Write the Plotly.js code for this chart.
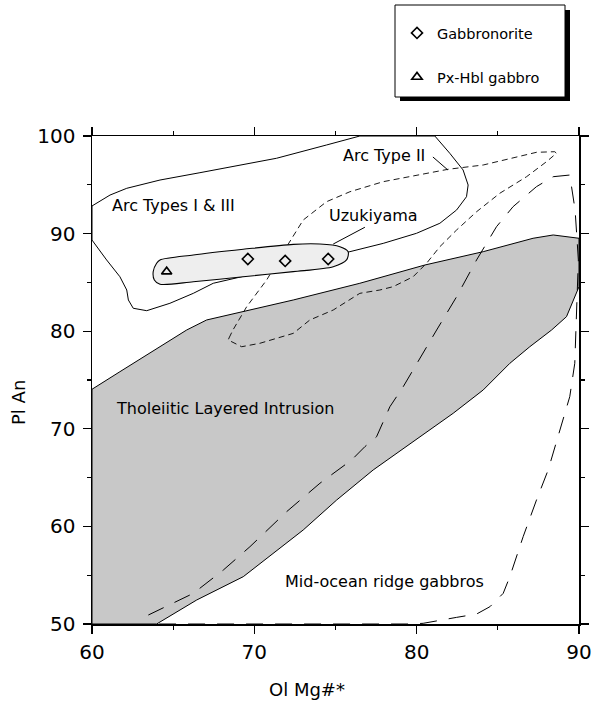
<!DOCTYPE html>
<html>
<head>
<meta charset="utf-8">
<script src="https://cdn.plot.ly/plotly-3.0.1.min.js"></script>
<style>
  html, body { margin: 0; padding: 0; background: #ffffff; }
  #chart { width: 597px; height: 701px; }
</style>
</head>
<body>
<div id="chart"></div>
<script>
// ---- Data ----
// Tholeiitic Layered Intrusion field (grey)
const tholX = [60, 60, 61.72, 63.88, 65.83, 67.06, 69.73, 72.40, 76.50, 80.50, 84.10, 87.17, 88.41, 90, 90, 89.23, 88.31, 86.97, 85.74, 84.10, 82.25, 80.20, 77.32, 75.07, 73.01, 69.32, 66.45, 63.98, 60];
const tholY = [50, 74.05, 75.85, 78.07, 80.12, 81.15, 82.17, 83.20, 84.91, 86.78, 88.15, 89.52, 89.86, 89.52, 84.56, 81.49, 80.12, 78.41, 76.71, 73.98, 71.59, 69.19, 65.78, 62.70, 59.63, 54.85, 52.46, 50, 50];

// Arc Types I & III field (solid outline)
const arc13X = [60, 61.11, 62.14, 64.19, 66.65, 69.30, 71.37, 74.45, 76.5, 81.12, 82.04, 82.86, 83.17, 83.07, 82.46, 81.43, 79.99, 77.94, 75.89, 67.47, 66.24, 64.80, 63.37, 62.54, 62.24, 62.14, 61.72, 60.90, 60.08, 60, 60];
const arc13Y = [92.83, 93.95, 94.64, 95.49, 96.24, 97.03, 97.72, 99.08, 100, 100, 98.23, 96.52, 94.98, 93.78, 92.42, 91.06, 90.03, 89.0, 88.15, 84.91, 83.88, 82.86, 82.10, 82.35, 83.20, 84.22, 85.58, 87.30, 89.17, 89.34, 92.83];

// Arc Type II field (short dashes)
const arc2X = [68.44, 68.68, 69.53, 70.76, 71.99, 73.01, 74.45, 75.89, 77.94, 79.99, 81.94, 84.10, 86.15, 87.38, 88.51, 88.61, 88.0, 86.77, 85.12, 83.69, 82.46, 81.43, 80.61, 79.78, 78.55, 77.73, 76.50, 74.86, 73.42, 72.40, 70.34, 69.22, 68.39, 68.44];
const arc2Y = [79.30, 80.12, 82.51, 85.25, 88.66, 91.39, 93.27, 94.29, 95.32, 96.0, 96.59, 97.03, 97.82, 98.33, 98.39, 98.23, 97.37, 95.83, 94.13, 92.24, 90.37, 88.66, 86.96, 85.58, 84.56, 84.22, 83.88, 82.17, 81.15, 79.78, 78.76, 78.41, 79.10, 79.30];

// Mid-ocean ridge gabbros field (long dashes)
const morbX = [63.47, 66.24, 68.09, 69.73, 71.99, 74.04, 75.99, 76.81, 77.53, 78.35, 79.17, 80.71, 81.23, 82.46, 83.69, 84.92, 85.94, 87.38, 88.41, 89.43, 89.55, 89.76, 89.96, 89.84, 89.74, 89.43, 88.71, 88.10, 87.38, 86.56, 85.74, 85.33, 84.51, 83.69, 82.46, 80.40, 79.58, 64.0];
const morbY = [50.92, 53.14, 55.53, 57.92, 61.51, 64.42, 66.80, 68.17, 69.19, 72.26, 74.31, 78.76, 80.12, 83.53, 87.30, 90.71, 92.76, 94.81, 95.83, 96.0, 94.81, 92.42, 87.30, 80.12, 76.71, 73.29, 69.19, 65.78, 62.70, 58.95, 54.85, 53.14, 51.77, 51.02, 50.68, 50.07, 50, 50];

// Uzukiyama field (light grey capsule)
const uzuX = [64.19, 66.24, 69.32, 72.40, 74.04, 75.27, 75.78, 75.68, 74.86, 72.40, 69.32, 66.24, 64.19, 63.84, 63.77, 63.98, 64.19];
const uzuY = [87.30, 87.81, 88.39, 88.90, 88.93, 88.66, 88.15, 87.30, 86.61, 86.10, 85.58, 85.07, 84.81, 85.25, 86.10, 86.96, 87.30];

// Samples
const gabbronoriteX = [69.6, 71.9, 74.55];
const gabbronoriteY = [87.4, 87.2, 87.4];
const pxHblX = [64.6];
const pxHblY = [86.1];

// Leader lines of labels
const uzuLeaderX = [76.81, 74.86];
const uzuLeaderY = [90.65, 88.93];
const arc2LeaderX = [81.0, 81.92];
const arc2LeaderY = [97.85, 96.52];

// Axes ticks
const xTickVals = [60, 70, 80, 90];
const yTickVals = [50, 60, 70, 80, 90, 100];

// Field labels
const fieldLabels = ["Arc Types I & III", "Arc Type II", "Uzukiyama", "Tholeiitic Layered Intrusion", "Mid-ocean ridge gabbros"];
const fieldLabelX = [64.99, 78.01, 77.32, 68.19, 78.04];
const fieldLabelY = [92.83, 98.05, 91.83, 72.03, 54.33];

// ---- Plot ----
const FONT = "DejaVu Sans, Verdana, sans-serif";
const W = 597, H = 701;
const M = {l: 92, r: 18, t: 136, b: 77};
const pw = W - M.l - M.r, ph = H - M.t - M.b;
const px2x = p => (p - M.l) / pw;
const py2y = p => (H - M.b - p) / ph;

const traces = [
  {x: tholX, y: tholY, type: 'scatter', mode: 'lines', fill: 'toself', fillcolor: '#c8c8c8',
   line: {color: '#000', width: 1}, showlegend: false, hoverinfo: 'skip'},
  {x: arc13X, y: arc13Y, type: 'scatter', mode: 'lines',
   line: {color: '#000', width: 1}, showlegend: false, hoverinfo: 'skip'},
  {x: arc2X, y: arc2Y, type: 'scatter', mode: 'lines',
   line: {color: '#000', width: 0.9, dash: '6px,4px'}, showlegend: false, hoverinfo: 'skip'},
  {x: morbX, y: morbY, type: 'scatter', mode: 'lines',
   line: {color: '#000', width: 1, dash: '17px,12px'}, showlegend: false, hoverinfo: 'skip'},
  {x: uzuX, y: uzuY, type: 'scatter', mode: 'lines', fill: 'toself', fillcolor: '#eeeeee',
   line: {color: '#000', width: 1.1, shape: 'spline', smoothing: 0.8}, showlegend: false, hoverinfo: 'skip'},
  {x: uzuLeaderX, y: uzuLeaderY, type: 'scatter', mode: 'lines',
   line: {color: '#000', width: 1}, showlegend: false, hoverinfo: 'skip'},
  {x: arc2LeaderX, y: arc2LeaderY, type: 'scatter', mode: 'lines',
   line: {color: '#000', width: 1}, showlegend: false, hoverinfo: 'skip'},
  {x: gabbronoriteX, y: gabbronoriteY, type: 'scatter', mode: 'markers', name: 'Gabbronorite',
   marker: {symbol: 'diamond-open', size: 8.5, color: '#000', line: {color: '#000', width: 1.6}},
   legend: 'legend'},
  {x: pxHblX, y: pxHblY, type: 'scatter', mode: 'markers', name: 'Px-Hbl gabbro',
   marker: {symbol: 'triangle-up-open', size: 9, color: '#000', line: {color: '#000', width: 1.6}},
   legend: 'legend2'}
];

const annotations = fieldLabels.map((t, i) => ({
  text: t, x: fieldLabelX[i], y: fieldLabelY[i], xref: 'x', yref: 'y',
  showarrow: false, font: {family: FONT, size: 16, color: '#000'},
  xanchor: 'center', yanchor: 'middle'
}));
annotations.push({
  text: 'Ol Mg#*', xref: 'paper', yref: 'paper', x: px2x(307), y: py2y(689),
  showarrow: false, xanchor: 'center', yanchor: 'middle',
  font: {family: FONT, size: 18, color: '#000'}
});
annotations.push({
  text: 'Pl An', xref: 'paper', yref: 'paper', x: px2x(18), y: py2y(403),
  showarrow: false, xanchor: 'center', yanchor: 'middle', textangle: -90,
  font: {family: FONT, size: 18, color: '#000'}
});

const axisCommon = {
  showgrid: false, zeroline: false, showline: true, linecolor: '#000', linewidth: 1.5,
  mirror: 'allticks', ticks: 'outside', ticklen: 8, tickwidth: 1.2, tickcolor: '#000',
  tickfont: {family: FONT, size: 20, color: '#000'},
  minor: {dtick: 5, ticks: 'outside', ticklen: 4, tickwidth: 1.2, tickcolor: '#000', showgrid: false}
};

const layout = {
  width: W, height: H,
  margin: M,
  paper_bgcolor: '#fff', plot_bgcolor: '#fff',
  font: {family: FONT, color: '#000'},
  xaxis: Object.assign({}, axisCommon, {range: [60, 90], tickvals: xTickVals, ticklabelstandoff: 1}),
  yaxis: Object.assign({}, axisCommon, {range: [50, 100], tickvals: yTickVals, ticklabelstandoff: 3}),
  showlegend: true,
  legend: {x: px2x(397), xanchor: 'left', y: py2y(33), yanchor: 'middle',
           bgcolor: 'rgba(0,0,0,0)', borderwidth: 0, font: {family: FONT, size: 14.5, color: '#000'}},
  legend2: {x: px2x(397), xanchor: 'left', y: py2y(77), yanchor: 'middle',
           bgcolor: 'rgba(0,0,0,0)', borderwidth: 0, font: {family: FONT, size: 14.5, color: '#000'}},
  shapes: [
    {type: 'rect', xref: 'paper', yref: 'paper', x0: px2x(400), x1: px2x(570), y0: py2y(101), y1: py2y(10),
     fillcolor: '#000', line: {width: 0}, layer: 'above'},
    {type: 'rect', xref: 'paper', yref: 'paper', x0: px2x(395), x1: px2x(565), y0: py2y(97), y1: py2y(5),
     fillcolor: '#fff', line: {color: '#000', width: 1}, layer: 'above'}
  ],
  annotations: annotations,
  hovermode: false
};

Plotly.newPlot('chart', traces, layout, {displayModeBar: false, staticPlot: true});
</script>
</body>
</html>
